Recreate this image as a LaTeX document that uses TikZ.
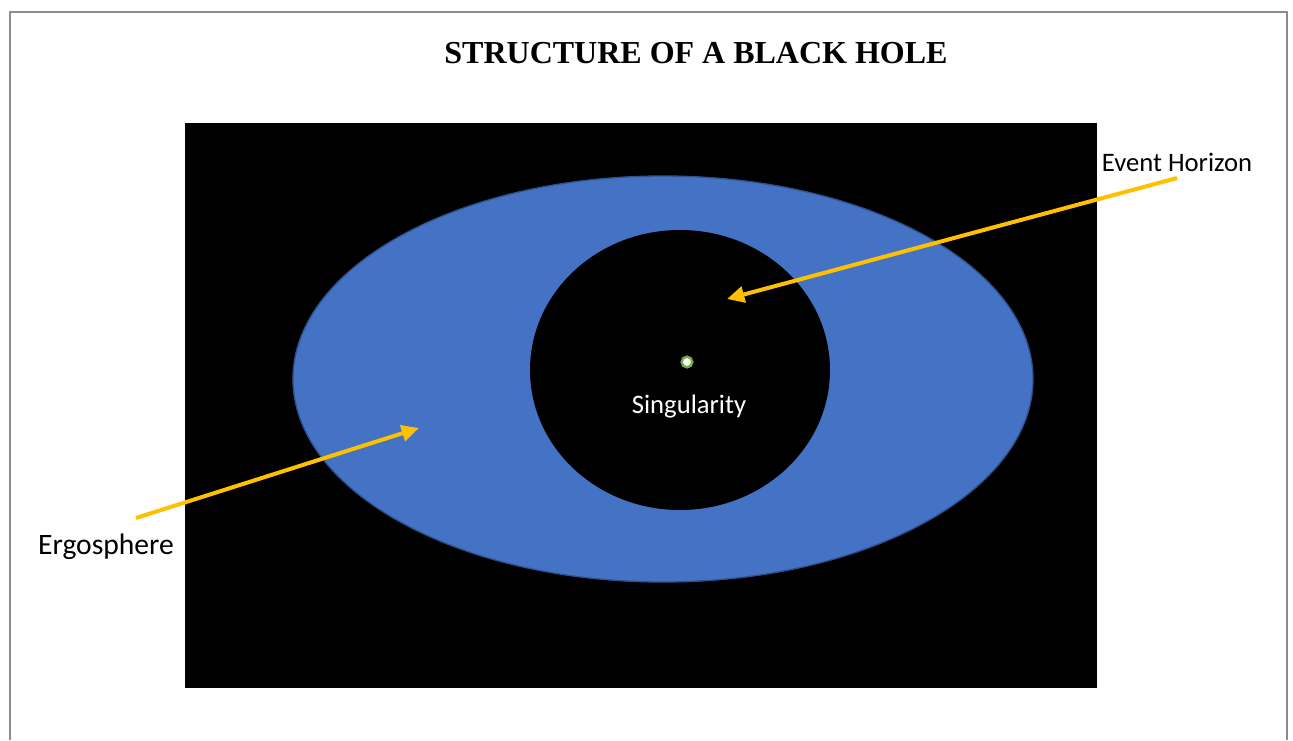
\documentclass[tikz,border=0pt]{standalone}
\usepackage{fontspec}
\setmainfont{Liberation Serif}
\newfontfamily\labelfont{Carlito}
\usepackage{tikz}
\usetikzlibrary{arrows.meta,positioning}
\definecolor{cframe}{HTML}{8C8C8C}
\definecolor{cergo}{HTML}{4472C4}
\definecolor{cergoedge}{HTML}{2F528F}
\definecolor{cpoint}{HTML}{FFC000}
\definecolor{csing}{HTML}{70AD47}
\tikzset{
  lbl/.style={font=\labelfont\fontsize{20}{24}\selectfont, inner sep=0pt},
  pointer/.style={-{Triangle[length=13pt, width=12pt]}, line width=3pt, draw=cpoint},
}
\begin{document}
\begin{tikzpicture}[x=0.75pt, y=-0.75pt]
\useasboundingbox (0,0) rectangle (1293,740);
% frame, open at the bottom
\draw[cframe, line width=1.5pt] (10,740) -- (10,12) -- (1287,12) -- (1287,740);
% title
\node[font=\bfseries\fontsize{24}{28}\selectfont] (title) at (696,53) {STRUCTURE OF A BLACK HOLE};
% black hole
\fill[black] (185,123) rectangle (1097,688);
\draw[fill=cergo, draw=cergoedge, line width=1pt] (663,379) ellipse[x radius=370, y radius=203];
\fill[black] (680,370) ellipse[x radius=150, y radius=140];
\node[circle, draw=csing, fill=white, line width=1.8pt, minimum size=8pt, inner sep=0pt] (sing) at (687,362) {};
\node[lbl, text=white] (singlbl) at (689,407) {Singularity};
% labels and pointers
\node[lbl] (evlbl) at (1177,162) {Event Horizon};
\node[lbl, font=\labelfont\fontsize{22.2}{26}\selectfont] (ergolbl) at (106,547) {Ergosphere};
\coordinate (evstart) at (1177,178);
\coordinate (evtip) at (727,299);
\coordinate (ergostart) at (136,518);
\coordinate (ergotip) at (419,428);
\draw[pointer] (evstart) -- (evtip);
\draw[pointer] (ergostart) -- (ergotip);
\end{tikzpicture}
\end{document}
